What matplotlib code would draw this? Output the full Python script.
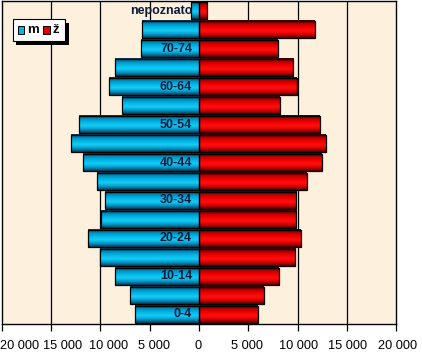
import matplotlib

matplotlib.use("Agg")
import matplotlib.pyplot as plt
import numpy as np
from matplotlib.colors import LinearSegmentedColormap
from matplotlib.patches import Rectangle

# age groups, bottom to top
AGE_GROUPS = ["0-4", "5-9", "10-14", "15-19", "20-24", "25-29", "30-34",
              "35-39", "40-44", "45-49", "50-54", "55-59", "60-64", "65-69",
              "70-74", "75+", "nepoznato"]
MALE = [6490, 7000, 8520, 10070, 11260, 9940, 9530, 10340, 11760, 12980,
        12170, 7810, 9130, 8480, 5880, 5750, 780]
FEMALE = [5980, 6590, 8110, 9780, 10310, 9880, 9880, 10950, 12440, 12880,
          12270, 8210, 9910, 9570, 8010, 11760, 800]
SHOWN_LABELS = ["0-4", "10-14", "20-24", "30-34", "40-44", "50-54", "60-64",
                "70-74", "nepoznato"]
X_TICKS = [-20000, -15000, -10000, -5000, 0, 5000, 10000, 15000, 20000]

BG = "#fdf1de"
cyan_cmap = LinearSegmentedColormap.from_list(
    "cyan", ["#003a52", "#0098c8", "#18ccf6", "#00b8e8", "#0090c0", "#00344a"])
red_cmap = LinearSegmentedColormap.from_list(
    "red", ["#4a0000", "#d80000", "#ff1010", "#f40000", "#b80000", "#3a0000"])

fig = plt.figure(figsize=(4.22, 3.57), dpi=100)
ax = fig.add_axes([2 / 422, 33 / 357, 394 / 422, 323 / 357])
ax.set_facecolor(BG)

y = np.arange(len(AGE_GROUPS))
h = 0.9
grad = np.linspace(1, 0, 64).reshape(-1, 1)

for yi, m, f in zip(y, MALE, FEMALE):
    ax.imshow(grad, cmap=cyan_cmap, aspect="auto", zorder=2,
              extent=[-m, 0, yi - h / 2, yi + h / 2], interpolation="bicubic")
    ax.imshow(grad, cmap=red_cmap, aspect="auto", zorder=2,
              extent=[0, f, yi - h / 2, yi + h / 2], interpolation="bicubic")

ax.barh(y, [-v for v in MALE], height=h, facecolor="none",
        edgecolor="black", linewidth=0.9, zorder=3)
ax.barh(y, FEMALE, height=h, facecolor="none",
        edgecolor="black", linewidth=0.9, zorder=3)

for yi, name in zip(y, AGE_GROUPS):
    if name in SHOWN_LABELS:
        ax.text(-700, yi, name, ha="right", va="center", fontsize=9,
                fontweight="bold", color="#0b1a3a", family="Liberation Sans",
                zorder=4)

for xv in X_TICKS[1:-1]:
    ax.axvline(xv, color="black", linewidth=0.9, zorder=1)

ax.set_xlim(-20000, 20000)
ax.set_ylim(-0.52, len(AGE_GROUPS) - 0.48)
ax.set_yticks([])
ax.set_xticks(X_TICKS)
ax.set_xticklabels([])
ax.tick_params(axis="x", length=5, width=0.9)
for s in ax.spines.values():
    s.set_linewidth(1.0)

# tick labels: the negative side sits a little right of its ticks, as in Excel
shift_pt = [12.5, 8.5, 6.0, 3.0, -0.6, -0.8, 0.5, 0.3, 1.0]
for xv, dx in zip(X_TICKS, shift_pt):
    ax.annotate(f"{abs(xv):,}".replace(",", " "), xy=(xv, 0),
                xycoords=("data", "axes fraction"), xytext=(dx, -15.8),
                textcoords="offset points", ha="center", va="center",
                fontsize=9.2, family="Liberation Sans", annotation_clip=False)

# legend box with shadow
lx, ly, lw, lh = 0.028, 0.877, 0.133, 0.068
ax.add_patch(Rectangle((lx + 0.008, ly - 0.012), lw, lh, transform=ax.transAxes,
                       facecolor="black", edgecolor="none", zorder=5))
ax.add_patch(Rectangle((lx, ly), lw, lh, transform=ax.transAxes,
                       facecolor="white", edgecolor="black", linewidth=0.8,
                       zorder=6))
ax.add_patch(Rectangle((lx + 0.012, ly + 0.022), 0.017, 0.024,
                       transform=ax.transAxes, facecolor="#00b4e4",
                       edgecolor="black", linewidth=0.7, zorder=7))
ax.text(lx + 0.035, ly + lh / 2, "m", transform=ax.transAxes, fontsize=9.5,
        fontweight="bold", va="center", ha="left", family="Liberation Sans",
        zorder=7)
ax.add_patch(Rectangle((lx + 0.077, ly + 0.022), 0.017, 0.024,
                       transform=ax.transAxes, facecolor="#e00000",
                       edgecolor="black", linewidth=0.7, zorder=7))
ax.text(lx + 0.1, ly + lh / 2, "ž", transform=ax.transAxes, fontsize=9.5,
        fontweight="bold", va="center", ha="left", family="Liberation Sans",
        zorder=7)

fig.savefig("out.png", dpi=100, facecolor="white")
